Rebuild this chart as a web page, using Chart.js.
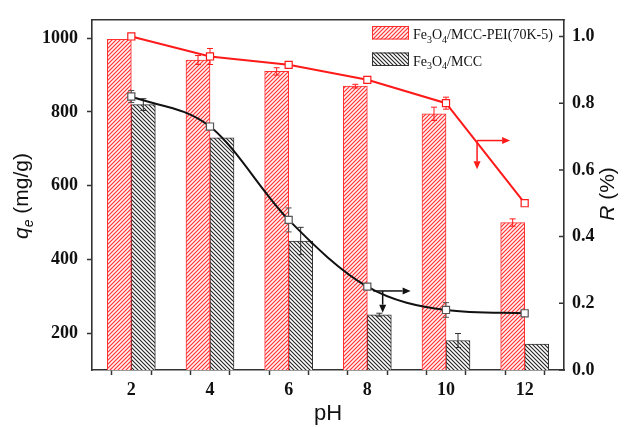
<!DOCTYPE html>
<html lang="en">
<head>
<meta charset="UTF-8">
<title>qe and R vs pH</title>
<script src="https://cdn.jsdelivr.net/npm/chart.js"></script>
<style>
  html, body { margin: 0; padding: 0; background: #fff; }
</style>
</head>
<body>
<canvas id="myChart" width="626" height="427"></canvas>
<script>
// ---- data ----
const phValues = [2, 4, 6, 8, 10, 12];
const xTickValues = [2, 3, 4, 5, 6, 7, 8, 9, 10, 11, 12];
const qeTicks = [200, 400, 600, 800, 1000];
const rTicks = [0, 0.2, 0.4, 0.6, 0.8, 1.0];

const qePei = [997, 941, 910, 870, 795, 500];
const qePeiErr = [0, 12, 10, 5, 18, 10];
const qeMcc = [820, 730, 450, 250, 180, 170];
const qeMccErr = [16, 0, 37, 4, 19, 0];

const rPei = [1.0, 0.94, 0.915, 0.87, 0.80, 0.50];
const rPeiErr = [0, 0.024, 0, 0, 0.018, 0];
const rMcc = [0.82, 0.73, 0.45, 0.25, 0.18, 0.17];
const rMccErr = [0.018, 0.006, 0.036, 0.004, 0.022, 0.004];

const legendLabels = ['Fe_3O_4/MCC-PEI(70K-5)', 'Fe_3O_4/MCC'];

// arrows pointing each curve to its axis, in (pH, R) units
const peiArrows = [[[10.79, 0.688], [11.63, 0.688]], [[10.79, 0.688], [10.79, 0.602]]];
const mccArrows = [[[8.15, 0.237], [9.10, 0.237]], [[8.39, 0.237], [8.39, 0.172]]];

const RED = '#ff1a1a';
const AXIS = '#333';

const canvas = document.getElementById('myChart');
const mainCtx = canvas.getContext('2d');

function hatch(line, bg, dir) {
    const s = 4;
    const c = document.createElement('canvas');
    c.width = s; c.height = s;
    const g = c.getContext('2d');
    g.fillStyle = bg; g.fillRect(0, 0, s, s);
    g.strokeStyle = line; g.lineWidth = 1.1;
    g.beginPath();
    for (let k = -1; k <= 1; k++) {
        if (dir > 0) { g.moveTo(k * s - 1, s + 1); g.lineTo(k * s + s + 1, -1); }
        else { g.moveTo(k * s - 1, -1); g.lineTo(k * s + s + 1, s + 1); }
    }
    g.stroke();
    return mainCtx.createPattern(c, 'repeat');
}

const redHatch = hatch('#ff3030', '#fff0f0', 1);
const blackHatch = hatch('#222', '#ffffff', -1);

const pts = ys => phValues.map((x, i) => ({ x: x, y: ys[i] }));

function drawErr(ctx, x, scale, v, e, color) {
    if (!e) return;
    const y1 = scale.getPixelForValue(v + e), y2 = scale.getPixelForValue(v - e);
    ctx.save();
    ctx.strokeStyle = color; ctx.lineWidth = 1;
    ctx.beginPath();
    ctx.moveTo(x, y1); ctx.lineTo(x, y2);
    ctx.moveTo(x - 3, y1); ctx.lineTo(x + 3, y1);
    ctx.moveTo(x - 3, y2); ctx.lineTo(x + 3, y2);
    ctx.stroke();
    ctx.restore();
}

function arrow(ctx, x1, y1, x2, y2, color) {
    const a = Math.atan2(y2 - y1, x2 - x1), h = 8, w = 3.5;
    const bx = x2 - h * Math.cos(a), by = y2 - h * Math.sin(a);
    ctx.save();
    ctx.strokeStyle = color; ctx.fillStyle = color; ctx.lineWidth = 1.5;
    ctx.beginPath(); ctx.moveTo(x1, y1); ctx.lineTo(bx, by); ctx.stroke();
    ctx.beginPath();
    ctx.moveTo(x2, y2);
    ctx.lineTo(bx + w * Math.sin(a), by - w * Math.cos(a));
    ctx.lineTo(bx - w * Math.sin(a), by + w * Math.cos(a));
    ctx.closePath(); ctx.fill();
    ctx.restore();
}

// text with "_x" subscripts, serif (legend)
function drawRich(ctx, text, x, y, size) {
    let cx = x;
    ctx.fillStyle = '#111';
    ctx.textBaseline = 'alphabetic'; ctx.textAlign = 'left';
    for (let i = 0; i < text.length; i++) {
        let ch = text[i], sub = false;
        if (ch === '_') { ch = text[++i]; sub = true; }
        ctx.font = (sub ? Math.round(size * 0.72) : size) + 'px "Liberation Serif", serif';
        ctx.fillText(ch, cx, sub ? y + size * 0.28 : y);
        cx += ctx.measureText(ch).width;
    }
}

// rotated axis title built from parts (italic / subscript)
function drawVTitle(ctx, parts, cx, cy, size) {
    const f = p => (p.it ? 'italic ' : '') + (p.sub ? Math.round(size * 0.68) : size) + 'px "Liberation Sans", Arial, sans-serif';
    let total = 0;
    parts.forEach(p => { ctx.font = f(p); p.w = ctx.measureText(p.t).width; total += p.w; });
    ctx.save();
    ctx.translate(cx, cy); ctx.rotate(-Math.PI / 2);
    ctx.textBaseline = 'alphabetic'; ctx.textAlign = 'left'; ctx.fillStyle = '#111';
    let x = -total / 2;
    parts.forEach(p => { ctx.font = f(p); ctx.fillText(p.t, x, p.sub ? size * 0.25 : 0); x += p.w; });
    ctx.restore();
}

const extras = {
    id: 'extras',
    beforeDatasetDraw(chart, args) {
        const ds = chart.data.datasets[args.index];
        if (ds.type !== 'line') return;
        const sc = chart.scales[ds.yAxisID];
        args.meta.data.forEach((el, i) => drawErr(chart.ctx, el.x, sc, ds.data[i].y, ds.errors[i], ds.errColor));
    },
    afterDatasetDraw(chart, args) {
        const ds = chart.data.datasets[args.index];
        if (ds.type === 'line') return;
        const sc = chart.scales.y;
        args.meta.data.forEach((el, i) => drawErr(chart.ctx, el.x, sc, ds.data[i].y, ds.errors[i], ds.errColor));
    },
    afterDraw(chart) {
        const ctx = chart.ctx, a = chart.chartArea;
        const xs = chart.scales.x, yr = chart.scales.yR;

        // top frame line
        ctx.save();
        ctx.strokeStyle = AXIS; ctx.lineWidth = 1.6;
        ctx.beginPath(); ctx.moveTo(a.left - 0.8, a.top); ctx.lineTo(a.right + 0.8, a.top); ctx.stroke();
        // inward ticks on the right axis
        ctx.lineWidth = 1.5;
        ctx.beginPath();
        rTicks.forEach(v => { const y = yr.getPixelForValue(v); ctx.moveTo(a.right - 5, y); ctx.lineTo(a.right, y); });
        ctx.stroke();
        ctx.restore();

        peiArrows.forEach(([p, q]) => arrow(ctx, xs.getPixelForValue(p[0]), yr.getPixelForValue(p[1]),
            xs.getPixelForValue(q[0]), yr.getPixelForValue(q[1]), RED));
        mccArrows.forEach(([p, q]) => arrow(ctx, xs.getPixelForValue(p[0]), yr.getPixelForValue(p[1]),
            xs.getPixelForValue(q[0]), yr.getPixelForValue(q[1]), '#111'));

        // legend
        const swatches = [[redHatch, '#ff3030'], [blackHatch, '#333']];
        legendLabels.forEach((lab, i) => {
            const top = 26 + i * 26.5;
            ctx.save();
            ctx.fillStyle = swatches[i][0];
            ctx.fillRect(372, top, 37, 13.5);
            ctx.strokeStyle = swatches[i][1]; ctx.lineWidth = 1;
            ctx.strokeRect(372.5, top + 0.5, 36, 12.5);
            ctx.restore();
            drawRich(ctx, lab, 413, top + 13, 14);
        });

        // axis titles
        drawVTitle(ctx, [{ t: 'q', it: true }, { t: 'e', it: true, sub: true }, { t: ' (mg/g)' }], 28, 196, 21);
        drawVTitle(ctx, [{ t: 'R', it: true }, { t: ' (%)' }], 614, 194, 21);
    }
};

const tickFont = { family: '"Liberation Serif", "Times New Roman", serif', size: 18, weight: 'bold' };

new Chart(canvas, {
    type: 'bar',
    data: {
        datasets: [{
            type: 'line',
            data: pts(rPei),
            errors: rPeiErr,
            errColor: RED,
            yAxisID: 'yR',
            order: 0,
            borderColor: RED,
            borderWidth: 2,
            tension: 0,
            pointStyle: 'rect',
            pointRadius: 5,
            pointBackgroundColor: '#fff',
            pointBorderColor: RED,
            pointBorderWidth: 1.2
        }, {
            type: 'line',
            data: pts(rMcc),
            errors: rMccErr,
            errColor: '#555',
            yAxisID: 'yR',
            order: 0,
            borderColor: '#111',
            borderWidth: 2,
            cubicInterpolationMode: 'monotone',
            pointStyle: 'rect',
            pointRadius: 5,
            pointBackgroundColor: '#fff',
            pointBorderColor: '#555',
            pointBorderWidth: 1.2
        }, {
            type: 'bar',
            data: pts(qePei),
            errors: qePeiErr,
            errColor: RED,
            yAxisID: 'y',
            order: 1,
            backgroundColor: redHatch,
            borderColor: '#ff3030',
            borderWidth: 1,
            borderSkipped: false,
            barThickness: 24
        }, {
            type: 'bar',
            data: pts(qeMcc),
            errors: qeMccErr,
            errColor: '#333',
            yAxisID: 'y',
            order: 1,
            backgroundColor: blackHatch,
            borderColor: '#333',
            borderWidth: 1,
            borderSkipped: false,
            barThickness: 24
        }]
    },
    options: {
        responsive: false,
        animation: false,
        layout: { padding: { top: 16, left: 0, right: 0, bottom: 0 } },
        plugins: { legend: { display: false }, tooltip: { enabled: false } },
        scales: {
            x: {
                type: 'linear',
                min: 1,
                max: 13,
                offset: false,
                afterBuildTicks: s => { s.ticks = xTickValues.map(v => ({ value: v })); },
                afterFit: s => { s.height = 57; },
                grid: { drawOnChartArea: false, drawTicks: true, tickLength: 5, tickColor: AXIS, tickWidth: 1.5 },
                border: { display: true, color: AXIS, width: 1.6 },
                ticks: {
                    font: tickFont, color: '#111', padding: 5, maxRotation: 0, autoSkip: false,
                    callback: v => (v % 2 === 0 ? String(v) : '')
                },
                title: {
                    display: true, text: 'pH', color: '#111', padding: 0,
                    font: { family: '"Liberation Sans", Arial, sans-serif', size: 22 }
                }
            },
            y: {
                position: 'left',
                min: 100,
                max: 1050,
                afterBuildTicks: s => { s.ticks = qeTicks.map(v => ({ value: v })); },
                afterFit: s => { s.width = 92; },
                grid: { drawOnChartArea: false, drawTicks: true, tickLength: 5, tickColor: AXIS, tickWidth: 1.5 },
                border: { display: true, color: AXIS, width: 1.6 },
                ticks: { font: tickFont, color: '#111', padding: 9, callback: v => String(v) }
            },
            yR: {
                position: 'right',
                min: 0,
                max: 1.05,
                afterBuildTicks: s => { s.ticks = rTicks.map(v => ({ value: v })); },
                afterFit: s => { s.width = 62; },
                grid: { drawOnChartArea: false, drawTicks: false },
                border: { display: true, color: AXIS, width: 1.6 },
                ticks: { font: tickFont, color: '#111', padding: 8, callback: v => v.toFixed(1) }
            }
        }
    },
    plugins: [extras]
});
</script>
</body>
</html>
